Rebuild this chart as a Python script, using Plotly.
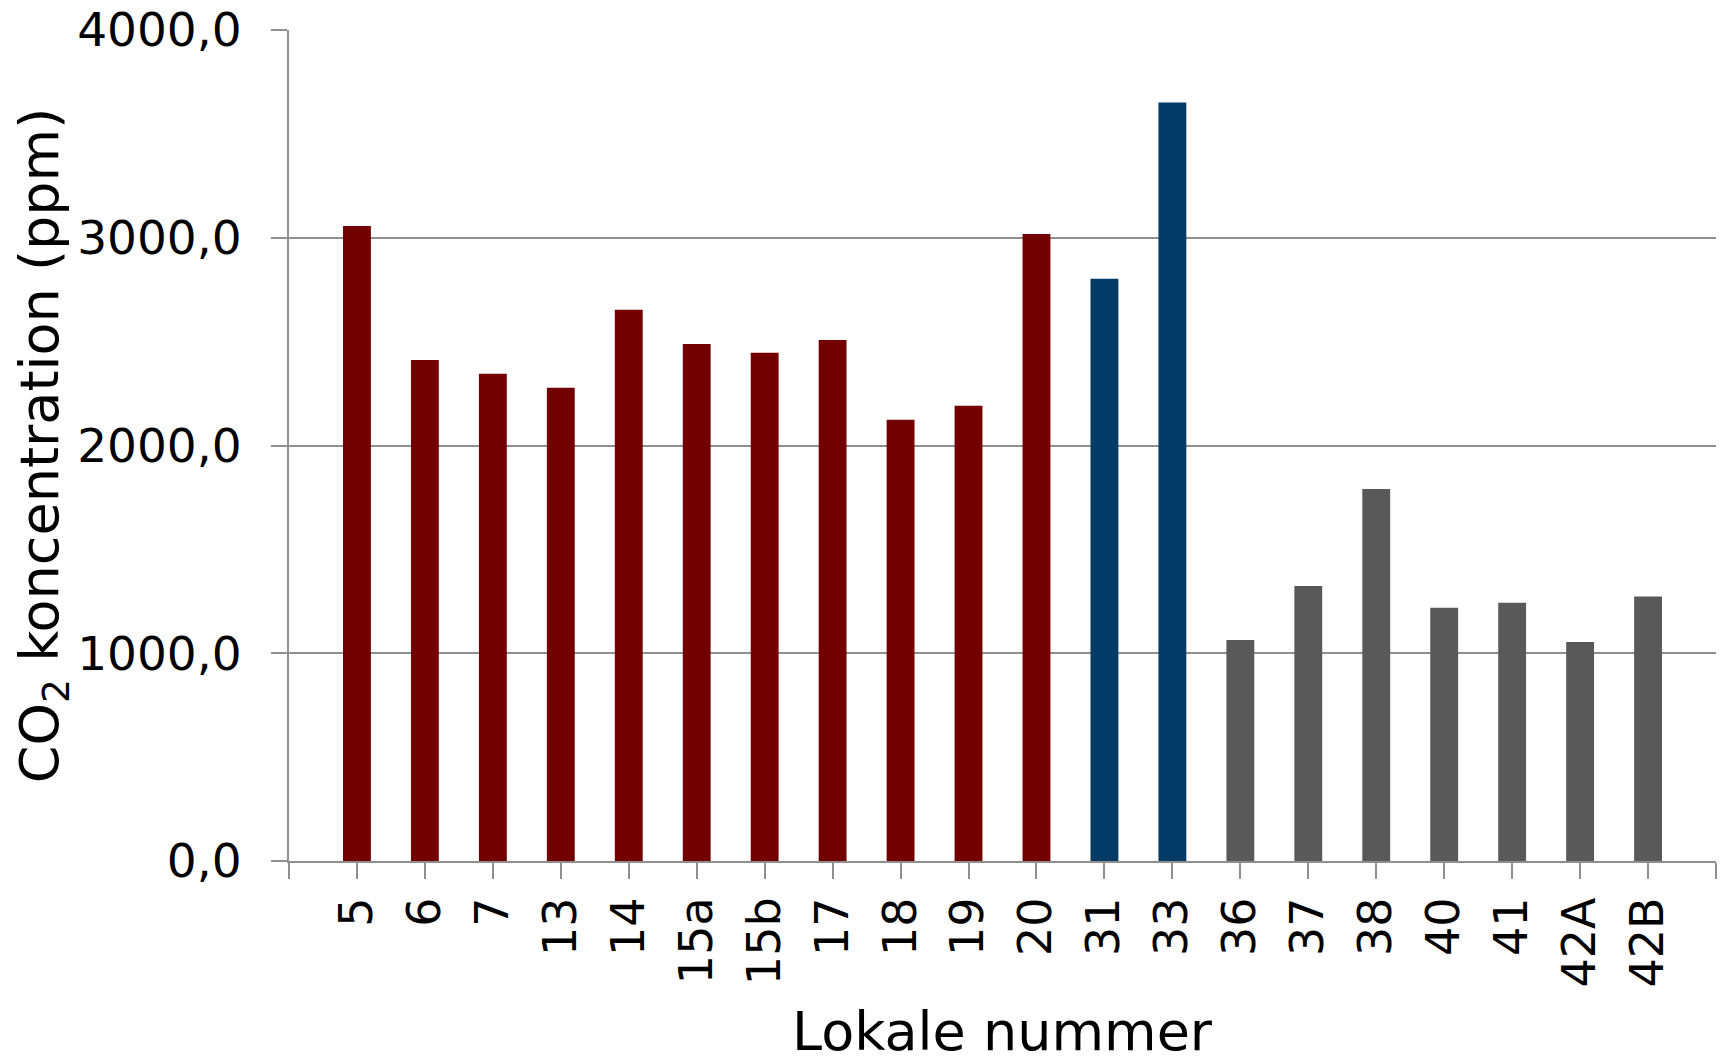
import plotly.graph_objects as go

categories = ["5", "6", "7", "13", "14", "15a", "15b", "17", "18", "19", "20",
              "31", "33", "36", "37", "38", "40", "41", "42A", "42B"]
co2_ppm = [3056, 2412, 2345, 2278, 2653, 2489, 2446, 2508, 2124, 2191, 3018,
           2803, 3651, 1064, 1324, 1791, 1219, 1243, 1054, 1273]
groups = ["A"] * 11 + ["B"] * 2 + ["C"] * 7
group_colors = {"A": "#720000", "B": "#033A66", "C": "#595959"}

x_idx = list(range(len(categories)))
colors = [group_colors[g] for g in groups]

fig = go.Figure(go.Bar(
    x=x_idx, y=co2_ppm, marker_color=colors, marker_line_width=0,
    width=0.41, showlegend=False,
))

grid = "#8f8f8f"
fig.update_layout(
    width=1717, height=1048,
    margin=dict(l=281, r=9, t=22, b=195),
    paper_bgcolor="white", plot_bgcolor="white",
    separators=",.",
    font=dict(family="DejaVu Sans", color="black"),
    xaxis=dict(
        automargin=False,
        range=[-1, len(categories)],
        tickmode="array",
        tickvals=list(range(-1, len(categories) + 1)),
        ticktext=[""] + categories + [""],
        tickangle=-90,
        ticks="outside", ticklen=16, tickwidth=2, tickcolor=grid,
        showline=True, linecolor=grid, linewidth=2,
        showgrid=False, zeroline=False,
        tickfont=dict(size=46, family="DejaVu Sans"),
    ),
    yaxis=dict(
        automargin=False,
        range=[0, 4000], tickvals=[0, 1000, 2000, 3000, 4000],
        tickformat=".1f",
        ticks="outside", ticklen=16, tickwidth=2, tickcolor=grid,
        ticklabelstandoff=20,
        ticklabeloverflow="allow",
        showline=True, linecolor=grid, linewidth=2,
        showgrid=True, gridcolor=grid, gridwidth=2,
        zeroline=False,
        tickfont=dict(size=47, family="DejaVu Sans"),
        title=dict(text="CO<sub>2</sub> koncentration (ppm)",
                   font=dict(size=54, family="DejaVu Sans"), standoff=0),
    ),
    annotations=[dict(
        text="Lokale nummer", xref="paper", yref="paper",
        x=0.5, y=-0.2046, xanchor="center", yanchor="middle",
        showarrow=False, font=dict(size=54, family="DejaVu Sans", color="black"),
    )],
)

fig.write_html("out.html")
